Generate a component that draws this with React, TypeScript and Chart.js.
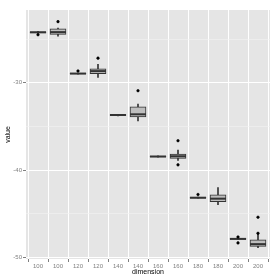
import React, { useEffect, useRef } from 'react';
import { Chart, registerables } from 'chart.js';

Chart.register(...registerables);

const categories = ['100', '100', '120', '120', '140', '140', '160', '160', '180', '180', '200', '200'];
const whiskerLow = [-24.35, -24.65, -29.0, -29.39, -33.78, -34.36, -38.5, -38.88, -43.2, -43.93, -47.95, -48.85];
const whiskerHigh = [-24.1, -23.75, -28.88, -27.89, -33.6, -32.44, -38.36, -37.68, -43.08, -41.98, -47.75, -47.21];
const q1 = [-24.28, -24.46, -28.97, -28.94, -33.72, -33.91, -38.47, -38.66, -43.18, -43.6, -47.9, -48.71];
const q3 = [-24.16, -23.82, -28.9, -28.4, -33.64, -32.75, -38.39, -38.14, -43.1, -42.8, -47.8, -47.97];
const medians = [-24.22, -24.2, -28.94, -28.66, -33.68, -33.6, -38.43, -38.4, -43.14, -43.25, -47.85, -48.45];
const outliersA = [-24.5, -23.0, -28.64, -27.18, null, -30.9, null, -36.62, -42.77, null, -47.63, -45.37];
const outliersB = [null, null, null, null, null, null, null, -39.38, null, null, -48.31, -47.21];
const yTicks = [-50, -45, -40, -35, -30, -25];

const FONT = "'Liberation Sans', Arial, sans-serif";

export default function App() {
  const ref = useRef<HTMLCanvasElement>(null);

  useEffect(() => {
    if (!ref.current) return;
    const idx = categories.map((_, i) => i);
    const panelBg = {
      id: 'panelBg',
      beforeDraw(chart: any) {
        const { ctx, chartArea } = chart;
        ctx.save();
        ctx.fillStyle = '#E5E5E5';
        ctx.fillRect(chartArea.left, chartArea.top, chartArea.right - chartArea.left, chartArea.bottom - chartArea.top);
        ctx.restore();
      },
    };
    const chart = new Chart(ref.current, {
      type: 'bar',
      data: {
        datasets: [
          {
            type: 'bar',
            label: 'whiskers',
            data: idx.map((i) => ({ x: i, y: [whiskerLow[i], whiskerHigh[i]] })) as any,
            backgroundColor: '#333333',
            barThickness: 1,
            grouped: false,
            order: 4,
          } as any,
          {
            type: 'bar',
            label: 'boxes',
            data: idx.map((i) => ({ x: i, y: [q1[i], q3[i]] })) as any,
            backgroundColor: '#BEBEBE',
            borderColor: '#333333',
            borderWidth: 1,
            borderSkipped: false,
            barThickness: 16,
            grouped: false,
            order: 3,
          } as any,
          {
            type: 'line',
            label: 'median',
            data: idx.map((i) => ({ x: i, y: medians[i] })),
            showLine: false,
            pointStyle: 'line',
            pointRadius: 8,
            pointBorderWidth: 2,
            pointBorderColor: '#333333',
            order: 2,
          } as any,
          {
            type: 'line',
            label: 'outliersA',
            data: idx.map((i) => ({ x: i, y: outliersA[i] })),
            showLine: false,
            pointRadius: 1.3,
            pointBackgroundColor: '#000000',
            pointBorderColor: '#000000',
            pointBorderWidth: 0.5,
            order: 1,
          } as any,
          {
            type: 'line',
            label: 'outliersB',
            data: idx.map((i) => ({ x: i, y: outliersB[i] })),
            showLine: false,
            pointRadius: 1.3,
            pointBackgroundColor: '#000000',
            pointBorderColor: '#000000',
            pointBorderWidth: 0.5,
            order: 1,
          } as any,
        ],
      },
      options: {
        animation: false,
        responsive: false,
        events: [],
        layout: { padding: { top: 7, right: 8, left: 0, bottom: 0 } },
        plugins: { legend: { display: false }, tooltip: { enabled: false } },
        scales: {
          x: {
            type: 'linear',
            min: -0.6,
            max: categories.length - 0.4,
            offset: false,
            afterBuildTicks: (scale: any) => {
              scale.ticks = idx.map((v) => ({ value: v }));
            },
            afterFit: (scale: any) => {
              scale.height = 21;
            },
            border: { display: false },
            grid: { color: '#FFFFFF', lineWidth: 1, tickLength: 3, tickColor: '#7F7F7F' },
            ticks: {
              autoSkip: false,
              maxRotation: 0,
              padding: 1,
              color: '#7F7F7F',
              font: { family: FONT, size: 6 },
              callback: (v: any) => categories[v as number],
            },
            title: {
              display: true,
              text: 'dimension',
              color: '#000000',
              font: { family: FONT, size: 7 },
              padding: { top: 0, bottom: 4 },
            },
          },
          y: {
            type: 'linear',
            min: -50.15,
            max: -21.67,
            afterBuildTicks: (scale: any) => {
              scale.ticks = yTicks.map((v) => ({ value: v }));
            },
            afterFit: (scale: any) => {
              scale.width = 26;
            },
            border: { display: false },
            grid: {
              color: (c: any) => (c.tick && c.tick.value % 10 === 0 ? '#FFFFFF' : '#F2F2F2'),
              lineWidth: (c: any) => (c.tick && c.tick.value % 10 === 0 ? 1 : 0.6),
              tickLength: 3,
              tickColor: (c: any) => (c.tick && c.tick.value % 10 === 0 ? '#7F7F7F' : 'rgba(0,0,0,0)'),
            },
            ticks: {
              padding: 1,
              color: '#7F7F7F',
              font: { family: FONT, size: 6 },
              callback: (v: any) => (Number(v) % 10 === 0 ? String(v) : ''),
            },
            title: {
              display: true,
              text: 'value',
              color: '#000000',
              font: { family: FONT, size: 7 },
              padding: { top: 4, bottom: 0 },
            },
          },
        },
      } as any,
      plugins: [panelBg],
    });
    return () => chart.destroy();
  }, []);

  return (
    <div style={{ position: 'fixed', left: 0, top: 0, width: 280, height: 280, background: '#FFFFFF' }}>
      <canvas ref={ref} width={280} height={280} style={{ width: 280, height: 280 }} />
    </div>
  );
}
